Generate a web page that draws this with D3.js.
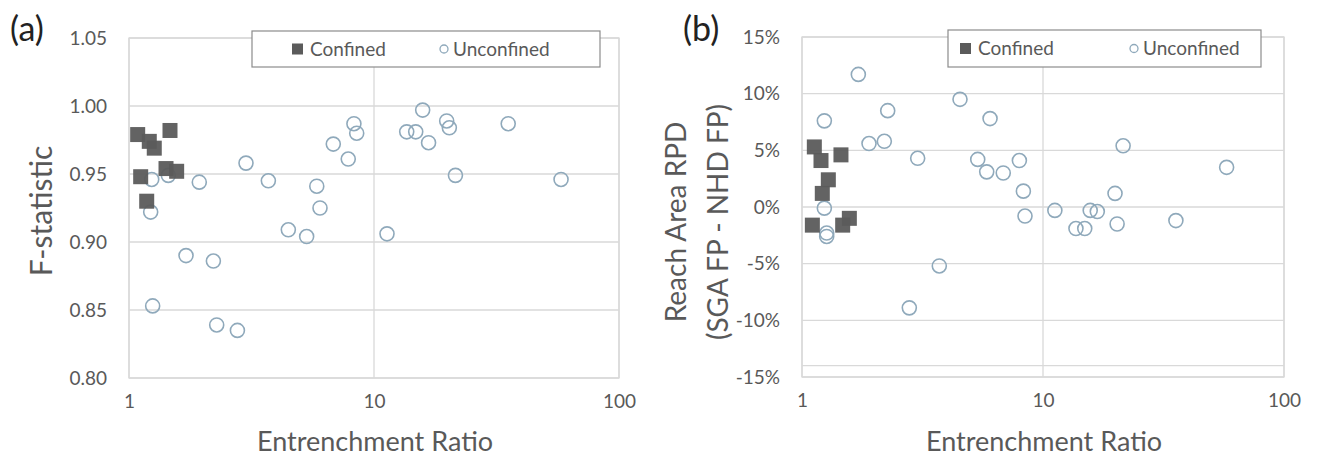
<!DOCTYPE html>
<html>
<head>
<meta charset="utf-8">
<script src="https://cdn.jsdelivr.net/npm/d3@7"></script>
<style>
  body { margin: 0; background: #fff; }
  svg text { font-family: Lato, "Open Sans", sans-serif; }
</style>
</head>
<body>
<div id="chart"></div>
<script>
// --> DATA
var erTicks = [1, 10, 100];
var fTicks = [0.80, 0.85, 0.90, 0.95, 1.00, 1.05];
var rpdTicks = [-0.15, -0.10, -0.05, 0, 0.05, 0.10, 0.15];

// panel (a): F-statistic vs entrenchment ratio
var aConfinedER = [1.085, 1.21, 1.268, 1.47, 1.416, 1.565, 1.116, 1.181];
var aConfinedF  = [0.979, 0.974, 0.969, 0.982, 0.954, 0.952, 0.948, 0.930];
var aUnconfinedER = [1.238, 1.447, 1.226, 1.936, 3.003, 3.705, 5.84, 6.02, 4.47, 5.31,
                     6.82, 7.85, 8.28, 8.5, 1.709, 2.21, 1.249, 2.28, 2.77,
                     15.8, 13.6, 14.8, 16.7, 19.8, 20.3, 35.3, 21.5, 58, 11.3];
var aUnconfinedF  = [0.946, 0.949, 0.922, 0.944, 0.958, 0.945, 0.941, 0.925, 0.909, 0.904,
                     0.972, 0.961, 0.987, 0.980, 0.890, 0.886, 0.853, 0.839, 0.835,
                     0.997, 0.981, 0.981, 0.973, 0.989, 0.984, 0.987, 0.949, 0.946, 0.906];

// panel (b): reach area RPD vs entrenchment ratio
var bConfinedER  = [1.125, 1.199, 1.451, 1.286, 1.214, 1.104, 1.572, 1.475];
var bConfinedRPD = [0.053, 0.041, 0.046, 0.024, 0.012, -0.016, -0.010, -0.016];
var bUnconfinedER  = [1.713, 1.238, 2.268, 1.897, 2.196, 3.02, 1.238, 1.266, 1.266, 3.713, 2.788,
                      4.525, 6.03, 5.36, 5.84, 6.84, 7.98, 8.29, 8.42,
                      21.5, 57.8, 19.9, 11.2, 15.7, 16.8, 13.7, 14.9, 20.3, 35.6];
var bUnconfinedRPD = [0.117, 0.076, 0.085, 0.056, 0.058, 0.043, -0.001, -0.023, -0.026, -0.052, -0.089,
                      0.095, 0.078, 0.042, 0.031, 0.030, 0.041, 0.014, -0.008,
                      0.054, 0.035, 0.012, -0.003, -0.003, -0.004, -0.019, -0.019, -0.015, -0.012];

var legendLabels = ["Confined", "Unconfined"];

// --> SVG
var width = 1317, height = 460;
var svg = d3.select("#chart").append("svg")
    .attr("width", width)
    .attr("height", height);

var gridColor = "#d9d9d9",
    textColor = "#595959",
    squareColor = "#5b5b5b",
    circleColor = "#8fa9bb";

function zip(xs, ys) {
    return xs.map(function(x, i) { return {x: x, y: ys[i]}; });
}

function drawPanel(p) {
    var g = svg.append("g");

    var x = d3.scaleLog().domain([1, 100]).range([p.left, p.right]);
    var y = d3.scaleLinear().domain(p.yDomain).range([p.bottom, p.top]);

    // gridlines
    g.selectAll(".hgrid").data(p.yTicks.concat(p.extraLines || [])).enter().append("line")
        .attr("x1", p.left).attr("x2", p.right)
        .attr("y1", function(d) { return y(d); }).attr("y2", function(d) { return y(d); })
        .attr("stroke", gridColor).attr("stroke-width", 1.3);
    g.selectAll(".vgrid").data(erTicks).enter().append("line")
        .attr("x1", function(d) { return x(d); }).attr("x2", function(d) { return x(d); })
        .attr("y1", p.top).attr("y2", p.bottom)
        .attr("stroke", gridColor).attr("stroke-width", 1.3);
    g.append("rect")
        .attr("x", p.left).attr("y", p.top)
        .attr("width", p.right - p.left).attr("height", p.bottom - p.top)
        .attr("fill", "none").attr("stroke", gridColor).attr("stroke-width", 1.3);

    // axes (labels only)
    var yAxis = d3.axisLeft(y).tickValues(p.yTicks).tickFormat(p.yFormat).tickSize(0).tickPadding(p.yPad);
    g.append("g").attr("transform", "translate(" + p.left + ",0)").call(yAxis)
        .call(function(a) { a.select(".domain").remove(); })
        .selectAll("text").attr("fill", textColor).style("font-size", "19px");

    var xAxis = d3.axisBottom(x).tickValues(erTicks).tickFormat(d3.format("d")).tickSize(0).tickPadding(17);
    g.append("g").attr("transform", "translate(0," + p.bottom + ")").call(xAxis)
        .call(function(a) { a.select(".domain").remove(); })
        .selectAll("text").attr("fill", textColor).style("font-size", "19px");

    // titles
    g.append("text")
        .attr("x", (p.left + p.right) / 2 + 1).attr("y", 451)
        .attr("text-anchor", "middle").attr("fill", textColor)
        .style("font-size", "27px")
        .text("Entrenchment Ratio");

    p.yTitle.forEach(function(t, i) {
        g.append("text")
            .attr("transform", "translate(" + p.yTitleX[i] + "," + p.yTitleY + ") rotate(-90)")
            .attr("text-anchor", "middle").attr("fill", textColor)
            .style("font-size", p.yTitleSize + "px")
            .text(t);
    });

    g.append("text")
        .attr("x", p.tagX).attr("y", 41)
        .attr("fill", "#222").style("font-size", "34px")
        .text(p.tag);

    // points
    g.selectAll(".unconf").data(zip(p.uER, p.uY)).enter().append("circle")
        .attr("cx", function(d) { return x(d.x); })
        .attr("cy", function(d) { return y(d.y); })
        .attr("r", 7)
        .attr("fill", "none")
        .attr("stroke", circleColor).attr("stroke-width", 1.6);

    var s = 15;
    g.selectAll(".conf").data(zip(p.cER, p.cY)).enter().append("rect")
        .attr("x", function(d) { return x(d.x) - s / 2; })
        .attr("y", function(d) { return y(d.y) - s / 2; })
        .attr("width", s).attr("height", s)
        .attr("fill", squareColor).attr("fill-opacity", 0.95);

    // legend
    var lg = g.append("g");
    lg.append("rect")
        .attr("x", p.legend[0]).attr("y", p.legend[1])
        .attr("width", p.legend[2] - p.legend[0]).attr("height", p.legend[3] - p.legend[1])
        .attr("fill", "#fff").attr("stroke", "#8c8c8c").attr("stroke-width", 1.2);
    var ly = (p.legend[1] + p.legend[3]) / 2;
    lg.append("rect")
        .attr("x", p.legendItems[0]).attr("y", ly - 5.5)
        .attr("width", 11).attr("height", 11).attr("fill", squareColor);
    lg.append("circle")
        .attr("cx", p.legendItems[1] + 4).attr("cy", ly)
        .attr("r", 4).attr("fill", "none").attr("stroke", circleColor).attr("stroke-width", 1.3);
    lg.selectAll(".ltext").data(legendLabels).enter().append("text")
        .attr("x", function(d, i) { return p.legendItems[i] + (i === 0 ? 18 : 13); })
        .attr("y", ly).attr("dy", "0.35em")
        .attr("fill", textColor).style("font-size", "19px")
        .text(function(d) { return d; });
}

drawPanel({
    left: 129, right: 619, top: 38, bottom: 378,
    yDomain: [0.80, 1.05], yTicks: fTicks, yFormat: d3.format(".2f"), yPad: 22,
    yTitle: ["F-statistic"], yTitleX: [52], yTitleY: 211, yTitleSize: 30,
    tag: "(a)", tagX: 10,
    cER: aConfinedER, cY: aConfinedF, uER: aUnconfinedER, uY: aUnconfinedF,
    legend: [252, 31, 600, 67], legendItems: [292, 440]
});

drawPanel({
    left: 802, right: 1284, top: 37, bottom: 377,
    yDomain: [-0.15, 0.15], yTicks: rpdTicks, extraLines: [-0.14],
    yFormat: function(d) { return Math.round(d * 100) + "%"; }, yPad: 22,
    yTitle: ["Reach Area RPD", "(SGA FP - NHD FP)"], yTitleX: [686, 728], yTitleY: 222, yTitleSize: 28,
    tag: "(b)", tagX: 683,
    cER: bConfinedER, cY: bConfinedRPD, uER: bUnconfinedER, uY: bUnconfinedRPD,
    legend: [948, 30, 1261, 67], legendItems: [960, 1130]
});
</script>
</body>
</html>
